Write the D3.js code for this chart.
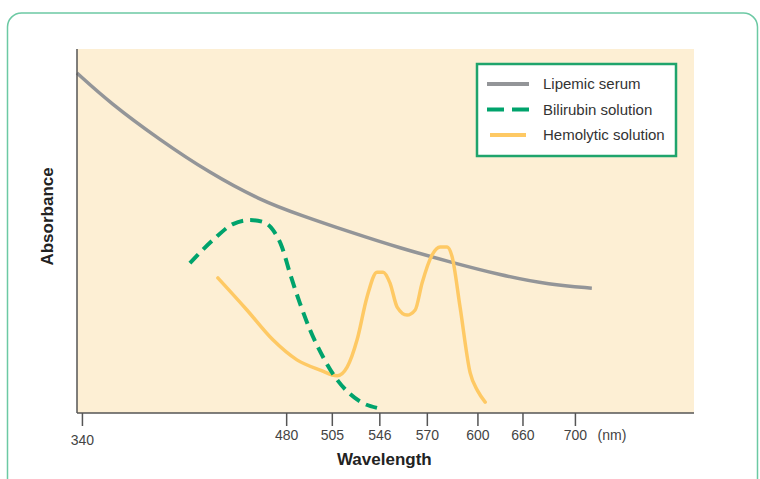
<!DOCTYPE html>
<html>
<head>
<meta charset="utf-8">
<script src="https://cdn.jsdelivr.net/npm/d3@7"></script>
<style>
  body { margin: 0; background: #fff; }
  text { font-family: "Liberation Sans", Arial, sans-serif; }
</style>
</head>
<body>
<div id="chart"></div>
<script>
// wavelength ticks (nm) — the axis is not to scale, so each tick gets its own spot
let tickValues = [340, 480, 505, 546, 570, 600, 660, 700]
let tickFractions = [0.008, 0.339, 0.413, 0.49, 0.567, 0.649, 0.722, 0.807]

// [wavelength, absorbance]
let lipemic = [
  [336.6, 0.934], [359.2, 0.852], [393.5, 0.75], [427.7, 0.659], [462.0, 0.585],
  [487.5, 0.544], [520.8, 0.497], [556.5, 0.453], [583.8, 0.415], [630.3, 0.379],
  [681.0, 0.352], [712.9, 0.343]
]
let bilirubin = [
  [414.0, 0.412], [429.8, 0.475], [443.5, 0.519], [455.1, 0.53], [464.0, 0.525],
  [470.9, 0.503], [477.1, 0.456], [482.0, 0.385], [487.5, 0.302], [493.1, 0.228],
  [500.2, 0.154], [507.8, 0.099], [520.8, 0.052], [532.0, 0.027], [544.0, 0.014]
]
let hemolytic = [
  [433.2, 0.371], [453.1, 0.283], [470.9, 0.201], [485.9, 0.146], [498.6, 0.118],
  [509.6, 0.102], [518.2, 0.126], [526.8, 0.201], [535.4, 0.319], [544.0, 0.387],
  [547.9, 0.387], [551.4, 0.357], [555.0, 0.291], [560.0, 0.269], [564.1, 0.283],
  [567.6, 0.357], [573.1, 0.434], [577.9, 0.456], [582.0, 0.456], [585.0, 0.429],
  [589.7, 0.291], [595.7, 0.11], [600.5, 0.06], [610.3, 0.03]
]

let seriesNames = ['Lipemic serum', 'Bilirubin solution', 'Hemolytic solution']
let seriesColors = ['#939598', '#00a36c', '#fec964']

let margin = { top: 49, left: 77, right: 66, bottom: 66 }
let totalW = 760
let totalH = 479
let width = totalW - margin.left - margin.right
let height = totalH - margin.top - margin.bottom

let root = d3
  .select('#chart')
  .append('svg')
  .attr('width', totalW)
  .attr('height', totalH)

// outer rounded frame
root
  .append('rect')
  .attr('x', 7.5)
  .attr('y', 13)
  .attr('width', 750)
  .attr('height', 490)
  .attr('rx', 14)
  .attr('fill', 'none')
  .attr('stroke', '#6cc9a4')
  .attr('stroke-width', 1.5)

let svg = root
  .append('g')
  .attr('transform', `translate(${margin.left},${margin.top})`)

let xScale = d3
  .scaleLinear()
  .domain(tickValues)
  .range(tickFractions.map(f => f * width))

let yScale = d3.scaleLinear().domain([0, 1]).range([height, 0])

svg
  .append('rect')
  .attr('width', width)
  .attr('height', height)
  .attr('fill', '#fdefd4')

let line = d3
  .line()
  .x(d => xScale(d[0]))
  .y(d => yScale(d[1]))
  .curve(d3.curveMonotoneX)

svg
  .append('path')
  .datum(lipemic)
  .attr('d', line.curve(d3.curveBasis))
  .attr('fill', 'none')
  .attr('stroke', seriesColors[0])
  .attr('stroke-width', 3.5)

line.curve(d3.curveMonotoneX)

svg
  .append('path')
  .datum(hemolytic)
  .attr('d', line)
  .attr('fill', 'none')
  .attr('stroke', seriesColors[2])
  .attr('stroke-width', 3.5)
  .attr('stroke-linecap', 'round')

svg
  .append('path')
  .datum(bilirubin)
  .attr('d', line)
  .attr('fill', 'none')
  .attr('stroke', seriesColors[1])
  .attr('stroke-width', 4)
  .attr('stroke-dasharray', '12,7')

// axes
let xAxis = d3
  .axisBottom(xScale)
  .tickValues(tickValues)
  .tickSize(13)
  .tickPadding(4)

svg
  .append('g')
  .attr('class', 'x-axis')
  .attr('transform', `translate(0,${height})`)
  .call(xAxis)
  .call(g => g.select('.domain').remove())
  .call(g => g.selectAll('.tick line').attr('stroke', '#555').attr('stroke-width', 1.5))
  .call(g =>
    g
      .selectAll('.tick text')
      .attr('font-size', 14)
      .attr('fill', '#444')
      .attr('font-family', '"Liberation Sans", Arial, sans-serif')
      .attr('dy', d => (d === 340 ? '1.1em' : '0.7em'))
  )

svg
  .append('line')
  .attr('x1', 0)
  .attr('x2', width)
  .attr('y1', height)
  .attr('y2', height)
  .attr('stroke', '#555')
  .attr('stroke-width', 1.5)

svg
  .append('line')
  .attr('x1', 0)
  .attr('x2', 0)
  .attr('y1', 0)
  .attr('y2', height)
  .attr('stroke', '#555')
  .attr('stroke-width', 1.5)

svg
  .append('text')
  .text('(nm)')
  .attr('x', xScale(700) + 37)
  .attr('y', height + 27)
  .attr('text-anchor', 'middle')
  .attr('font-size', 14)
  .attr('fill', '#444')

svg
  .append('text')
  .text('Wavelength')
  .attr('x', xScale(546) + 5)
  .attr('y', height + 52)
  .attr('text-anchor', 'middle')
  .attr('font-size', 17)
  .attr('font-weight', 'bold')
  .attr('fill', '#222')

svg
  .append('text')
  .text('Absorbance')
  .attr('transform', `translate(${-24},${height * 0.46}) rotate(-90)`)
  .attr('text-anchor', 'middle')
  .attr('font-size', 17)
  .attr('font-weight', 'bold')
  .attr('fill', '#222')

// legend
let legend = svg.append('g').attr('transform', `translate(${width - 217},15)`)

legend
  .append('rect')
  .attr('width', 199)
  .attr('height', 92)
  .attr('fill', '#fff')
  .attr('stroke', '#1fa46c')
  .attr('stroke-width', 2.5)

legend
  .selectAll('.legend-entry')
  .data(seriesNames)
  .enter()
  .append('g')
  .attr('class', 'legend-entry')
  .attr('transform', (d, i) => `translate(10,${20 + i * 25.5})`)
  .each(function(d, i) {
    let g = d3.select(this)

    g.append('line')
      .attr('x1', i === 2 ? 3 : 0)
      .attr('x2', i === 2 ? 39 : 42)
      .attr('stroke', seriesColors[i])
      .attr('stroke-width', 4)
      .attr('stroke-dasharray', i === 1 ? '17,8' : null)

    g.append('text')
      .text(d)
      .attr('x', 56)
      .attr('dy', '0.35em')
      .attr('font-size', 15)
      .attr('fill', '#333')
  })
</script>
</body>
</html>
